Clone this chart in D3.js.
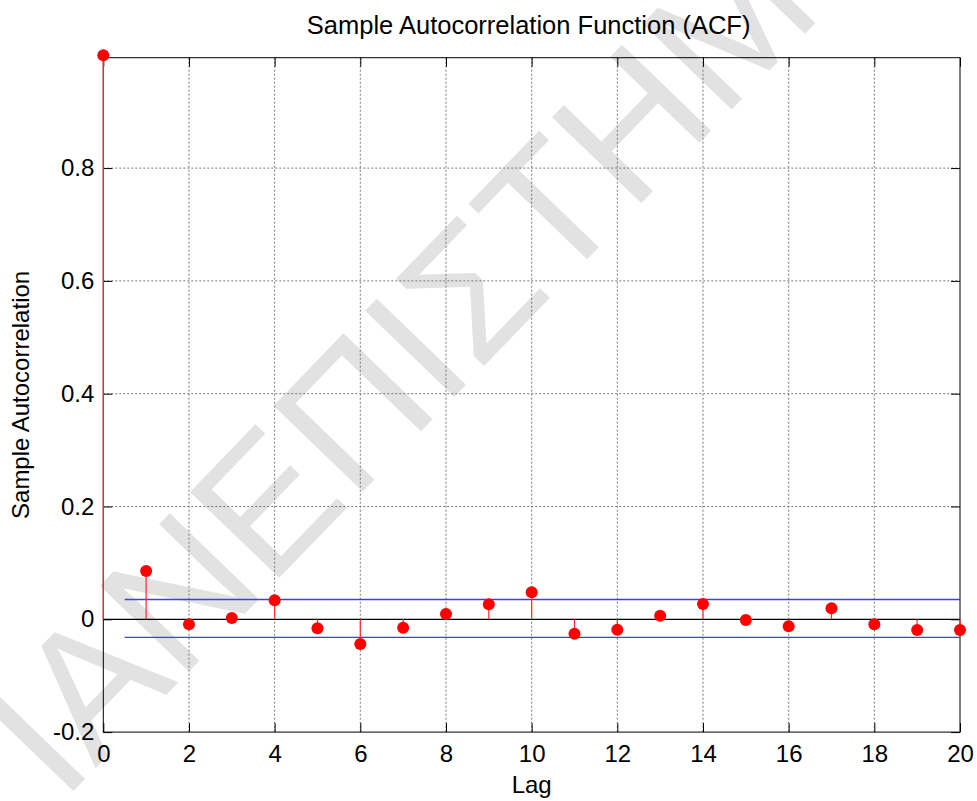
<!DOCTYPE html>
<html>
<head>
<meta charset="utf-8">
<script src="https://cdn.jsdelivr.net/npm/d3@7"></script>
<style>
  body { margin: 0; background: #fff; }
  svg { display: block; font-family: "Liberation Sans", Arial, sans-serif; }
</style>
</head>
<body>
<div id="chart"></div>
<script>
// ACF values, lag 0..20
var lags = d3.range(0, 21);
var acf = [1, 0.0855, -0.009, 0.0023, 0.0336, -0.016, -0.0437, -0.0148, 0.0094, 0.0265,
           0.0478, -0.0255, -0.0184, 0.0062, 0.027, -0.0014, -0.0124, 0.0195, -0.0089, -0.019, -0.019];
var bounds = [0.035, -0.032];
var xTicks = [0, 2, 4, 6, 8, 10, 12, 14, 16, 18, 20];
var yTicks = [-0.2, 0, 0.2, 0.4, 0.6, 0.8];

var W = 977, H = 801;
var margin = {top: 57.7, right: 17, bottom: 68.9, left: 103.3},
    width = W - margin.left - margin.right,
    height = H - margin.top - margin.bottom;

var svg = d3.select("#chart")
  .append("svg")
    .attr("width", W)
    .attr("height", H);

// watermark
svg.append("text")
  .attr("transform", "translate(5,862) rotate(-46)")
  .attr("font-size", "180px")
  .attr("fill", "#e2e2e2")
  .text("ΠΑΝΕΠΙΣΤΗΜΙΟ");

var g = svg.append("g")
  .attr("transform", "translate(" + margin.left + "," + margin.top + ")");

var x = d3.scaleLinear().domain([0, 20]).range([0, width]);
var y = d3.scaleLinear().domain([-0.2, 0.9957]).range([height, 0]);

// grid
g.append("g").selectAll("line")
  .data(xTicks.slice(1, -1))
  .enter().append("line")
    .attr("x1", function(d) { return x(d); })
    .attr("x2", function(d) { return x(d); })
    .attr("y1", 0).attr("y2", height)
    .attr("stroke", "#777").attr("stroke-dasharray", "2,2");
g.append("g").selectAll("line")
  .data(yTicks.filter(function(d) { return d > 0; }))
  .enter().append("line")
    .attr("x1", 0).attr("x2", width)
    .attr("y1", function(d) { return y(d); })
    .attr("y2", function(d) { return y(d); })
    .attr("stroke", "#777").attr("stroke-dasharray", "2,2");

var fmt = function(d) { return String(+d.toFixed(1)); };

// axes, ticks pointing inward on all sides
var xAxis = g.append("g")
  .attr("transform", "translate(0," + height + ")")
  .call(d3.axisBottom(x).tickValues(xTicks).tickSize(-9).tickPadding(13).tickFormat(fmt));
var xTop = g.append("g")
  .call(d3.axisTop(x).tickValues(xTicks).tickSize(-9).tickFormat(""));
var yAxis = g.append("g")
  .call(d3.axisLeft(y).tickValues(yTicks).tickSize(-9).tickPadding(9).tickFormat(fmt));
var yRight = g.append("g")
  .attr("transform", "translate(" + width + ",0)")
  .call(d3.axisRight(y).tickValues(yTicks).tickSize(-9).tickFormat(""));

[xAxis, xTop, yAxis, yRight].forEach(function(a) {
  a.select(".domain").remove();
  a.selectAll("line").attr("stroke", "#000");
  a.selectAll("text").attr("font-size", "24px").attr("fill", "#000")
    .attr("font-family", "Liberation Sans, Arial, sans-serif");
});

// box
g.append("rect")
  .attr("width", width).attr("height", height)
  .attr("fill", "none").attr("stroke", "#000");

// zero line
g.append("line")
  .attr("x1", x(0)).attr("x2", x(20))
  .attr("y1", y(0)).attr("y2", y(0))
  .attr("stroke", "#000").attr("stroke-width", 1.3);

// confidence bounds
g.selectAll(".bound")
  .data(bounds)
  .enter().append("line")
    .attr("class", "bound")
    .attr("x1", x(0.5)).attr("x2", x(20))
    .attr("y1", function(d) { return y(d); })
    .attr("y2", function(d) { return y(d); })
    .attr("stroke", "#3c3cff").attr("stroke-width", 1.4);

// stems
g.selectAll(".stem")
  .data(acf)
  .enter().append("line")
    .attr("class", "stem")
    .attr("x1", function(d, i) { return x(lags[i]); })
    .attr("x2", function(d, i) { return x(lags[i]); })
    .attr("y1", y(0))
    .attr("y2", function(d) { return y(d); })
    .attr("stroke", "#ff2a2a").attr("stroke-width", 1.2);

// markers
g.selectAll(".dot")
  .data(acf)
  .enter().append("circle")
    .attr("class", "dot")
    .attr("cx", function(d, i) { return x(lags[i]); })
    .attr("cy", function(d) { return y(d); })
    .attr("r", 6)
    .attr("fill", "#ff0000");

// labels
svg.append("text")
  .attr("x", margin.left + width / 2 - 3)
  .attr("y", 34)
  .attr("font-size", "25.5px")
  .attr("text-anchor", "middle")
  .text("Sample Autocorrelation Function (ACF)");

svg.append("text")
  .attr("x", margin.left + width / 2)
  .attr("y", 793)
  .attr("font-size", "24px")
  .attr("text-anchor", "middle")
  .text("Lag");

svg.append("text")
  .attr("transform", "translate(29," + (margin.top + height / 2) + ") rotate(-90)")
  .attr("font-size", "24px")
  .attr("text-anchor", "middle")
  .text("Sample Autocorrelation");
</script>
</body>
</html>
